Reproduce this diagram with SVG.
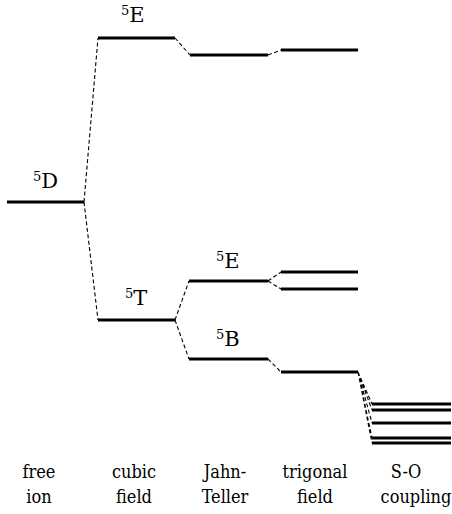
<svg xmlns="http://www.w3.org/2000/svg" width="452" height="514" viewBox="0 0 452 514">
<style>
.lv{stroke:#000;stroke-width:3;fill:none}
.cn{stroke:#000;stroke-width:1.1;stroke-dasharray:4,2.5;fill:none}
.lb{font-size:21px;font-family:"DejaVu Serif",serif}
.sp{font-size:13px}
.ax{font-size:18px;text-anchor:middle;font-family:"DejaVu Serif Condensed","DejaVu Serif",serif}
</style>
<rect width="452" height="514" fill="#fff"/>
<g id="connectors">
<path class="cn" d="M84,202 L98,38 M84,202 L98,320"/>
<path class="cn" d="M175,38 L190,55 M268,55 L281,50"/>
<path class="cn" d="M175,320 L189,281 M175,320 L189,359"/>
<path class="cn" d="M268,281 L281,272 M268,281 L281,289"/>
<path class="cn" d="M268,359 L281,372"/>
<path class="cn" d="M358,372 L372,404 M358,372 L372,410 M358,372 L372,423 M358,372 L372,438 M358,372 L372,443"/>
</g>
<g fill="#000">
<g id="free-5D">
<line class="lv" x1="7" y1="202" x2="84" y2="202"/>
<text class="lb" x="33" y="188"><tspan class="sp" dy="-7">5</tspan><tspan dy="7">D</tspan></text>
</g>
<g id="cubic-5E">
<line class="lv" x1="98" y1="38" x2="175" y2="38"/>
<text class="lb" x="121" y="22"><tspan class="sp" dy="-7">5</tspan><tspan dy="7">E</tspan></text>
</g>
<g id="cubic-5T">
<line class="lv" x1="98" y1="320" x2="175" y2="320"/>
<text class="lb" x="125" y="305"><tspan class="sp" dy="-7">5</tspan><tspan dy="7">T</tspan></text>
</g>
<g id="jt-upper">
<line class="lv" x1="190" y1="55" x2="268" y2="55"/>
</g>
<g id="trig-upper">
<line class="lv" x1="281" y1="50" x2="358" y2="50"/>
</g>
<g id="jt-5E">
<line class="lv" x1="189" y1="281" x2="268" y2="281"/>
<text class="lb" x="216" y="268"><tspan class="sp" dy="-7">5</tspan><tspan dy="7">E</tspan></text>
</g>
<g id="trig-E">
<line class="lv" x1="281" y1="272" x2="358" y2="272"/>
<line class="lv" x1="281" y1="289" x2="358" y2="289"/>
</g>
<g id="jt-5B">
<line class="lv" x1="189" y1="359" x2="268" y2="359"/>
<text class="lb" x="216" y="346"><tspan class="sp" dy="-7">5</tspan><tspan dy="7">B</tspan></text>
</g>
<g id="trig-B">
<line class="lv" x1="281" y1="372" x2="358" y2="372"/>
</g>
<g id="so-levels">
<line class="lv" x1="372" y1="404" x2="451" y2="404"/>
<line class="lv" x1="372" y1="410" x2="451" y2="410"/>
<line class="lv" x1="372" y1="423" x2="451" y2="423"/>
<line class="lv" x1="372" y1="438" x2="451" y2="438"/>
<line class="lv" x1="372" y1="443" x2="451" y2="443"/>
</g>
<g id="axis-labels">
<text class="ax" x="39" y="478">free</text>
<text class="ax" x="39" y="503">ion</text>
<text class="ax" x="134" y="478">cubic</text>
<text class="ax" x="134" y="503">field</text>
<text class="ax" x="225" y="478">Jahn-</text>
<text class="ax" x="225" y="503">Teller</text>
<text class="ax" x="315" y="478">trigonal</text>
<text class="ax" x="315" y="503">field</text>
<text class="ax" x="406" y="478">S-O</text>
<text class="ax" x="416" y="503">coupling</text>
</g>
</g>
</svg>
